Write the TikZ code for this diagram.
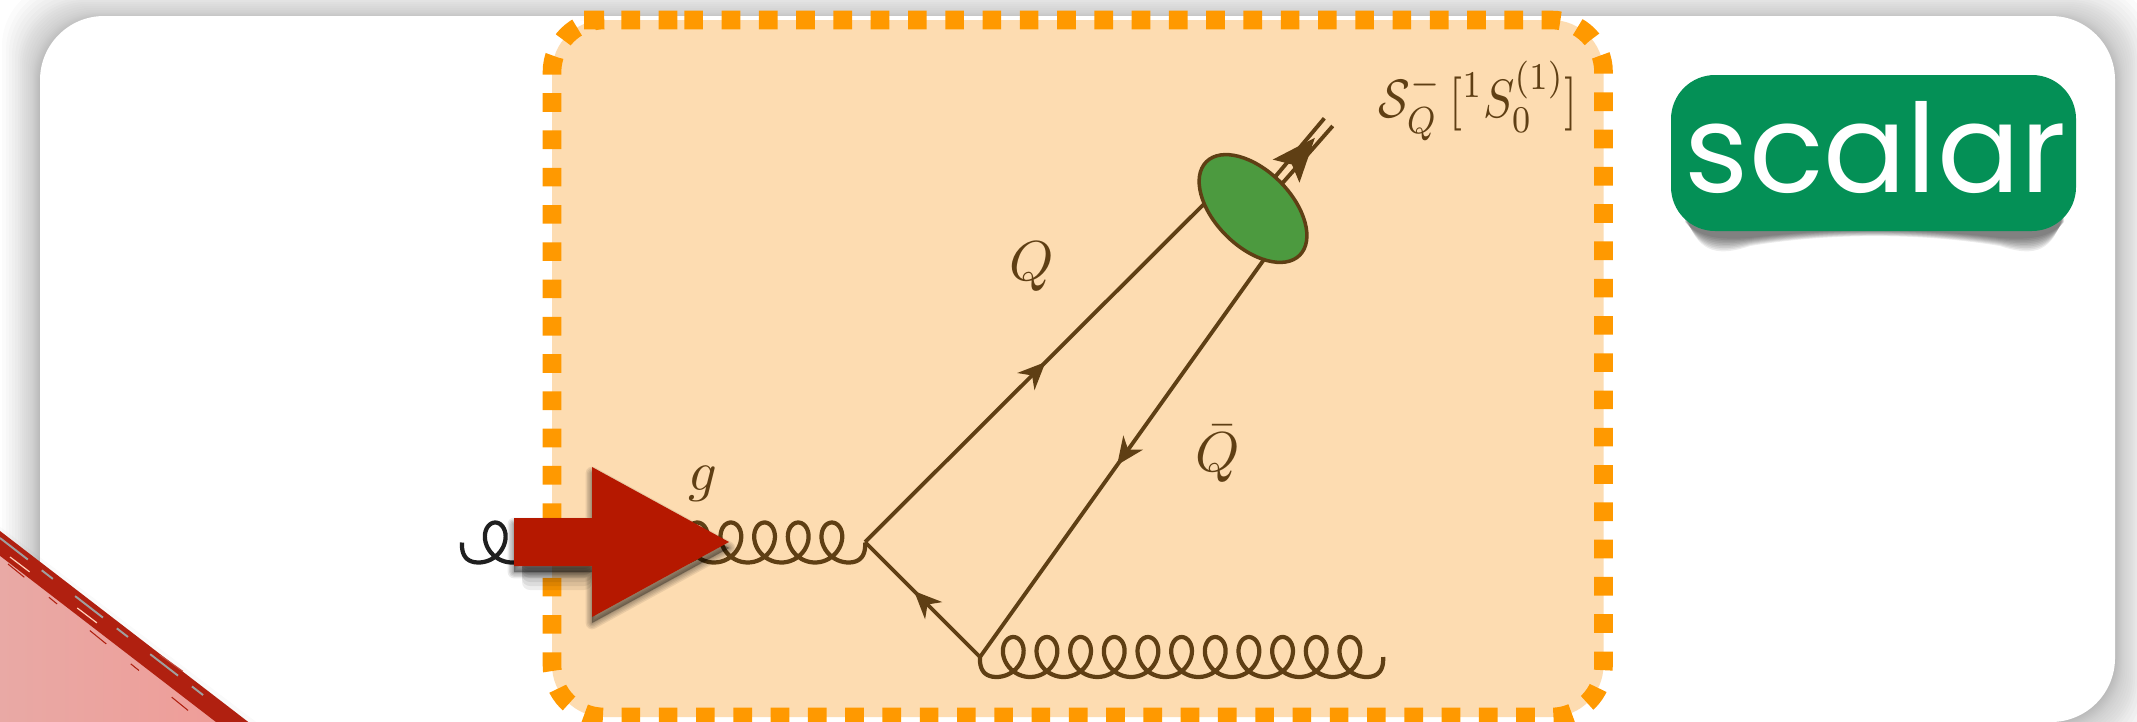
\documentclass[tikz,border=0pt]{standalone}
\usepackage{fontspec}
\newfontfamily\badgefont{Poppins}
\usetikzlibrary{arrows.meta,decorations.markings,shapes.geometric}
\definecolor{diagbrown}{HTML}{5F3F14}
\definecolor{boxorange}{HTML}{FF9900}
\definecolor{boxfill}{HTML}{FDDCB1}
\definecolor{blobgreen}{HTML}{4C9A3F}
\definecolor{badgegreen}{HTML}{049056}
\definecolor{arrowred}{HTML}{B51800}
\definecolor{edgered}{HTML}{B02010}
% one coil line, 403 wide, from its left end
\newcommand{\gluonplot}[2]{plot[domain=0:4140,samples=521,variable=\t] ({#1+8+0.0935*\t-(18-10*max(0,1-\t/90)-10*max(0,1-(4140-\t)/90))*cos(\t)},{#2+20*sin(\t)})}
\begin{document}
\begin{tikzpicture}[
        x=0.01cm,
        y=-0.01cm,
        soft shade/.style={black,opacity=0.017},
        edge shade/.style={black,opacity=0.02},
        corner shade/.style={black,opacity=0.07},
        quark line/.style={diagbrown,line width=1.1pt},
        gluon line/.style={diagbrown,line width=1.2pt},
        mid arrow/.style={postaction={decorate},decoration={markings,mark=at position #1 with {\arrow{Stealth[length=7.8pt,width=6.8pt,inset=2.4pt]}}}},
        big arrow/.style={postaction={decorate},decoration={markings,mark=at position #1 with {\arrow{Stealth[length=12.5pt,width=10pt,inset=2.5pt]}}}},
        math label/.style={text=diagbrown,scale=1.6,inner sep=0pt}
    ]
    \useasboundingbox (0,0) rectangle (2137,721);

    % card and its shadow
    \foreach \d in {38,34,31,28,25,22,20,18,16,14,12,10,8.5,7,6,5,4,3,2,1} {
        \fill[soft shade,rounded corners=0.64cm] (40-\d,20-\d) rectangle (2115+\d,722+\d);
    }
    \fill[white,rounded corners=0.64cm] (40,16) rectangle (2115,722);

    % corner of the red sheet
    \foreach \d in {14,10,7,4} {
        \draw[edge shade,line width=\d*0.6pt] (-20,530) -- (262,745);
    }
    \shade[left color={rgb,255:red,232;green,170;blue,166},right color={rgb,255:red,240;green,155;blue,150}] (-20,528) -- (262,745) -- (-20,745) -- cycle;
    \draw[edgered,line width=5.6pt] (-20,528) -- (262,745);
    \draw[gray!75,line width=0.55pt,dash pattern=on 10pt off 5pt on 4pt off 8pt] (0,538) -- (225,712);
    \draw[boxfill!50!pink,line width=0.35pt,dash pattern=on 7pt off 17pt] (10,557) -- (105,629);
    \draw[edgered,line width=0.3pt,dash pattern=on 6pt off 9pt on 3pt off 12pt] (8,564) -- (190,712);
    \draw[edgered!80,line width=0.3pt,dash pattern=on 8pt off 22pt] (160,655) -- (240,712);

    % orange frame
    \draw[boxorange,fill=boxfill,line width=5.3pt,rounded corners=0.52cm,dash pattern=on 5.3pt off 5.3pt]
        (632.3,20) -- (1603.5,20) -- (1603.5,717) -- (552,717) -- (552,20) -- cycle;

    % badge
    \foreach \d in {16,14,...,0} {
        \fill[corner shade] (1685,205) -- (1685+\d*0.2,222) .. controls (1700,238+\d) and (1720,240+\d) .. (1750,238+0.5*\d)
            .. controls (1830,228+0.3*\d) and (1920,228+0.3*\d) .. (2000,238+0.5*\d)
            .. controls (2030,240+\d) and (2050,238+\d) .. (2064-\d*0.2,222) -- (2064,205) -- cycle;
    }
    \fill[badgegreen,rounded corners=0.44cm] (1671,75) rectangle (2076,231);
    \node[text=white,font=\badgefont\fontsize{35}{37}\selectfont,inner sep=0pt,anchor=base] (badge) at (1875.5,192) {scalar};

    % vertices
    \coordinate (v1) at (865,542);
    \coordinate (v2) at (980,657);
    \coordinate (qend) at (1205,203);
    \coordinate (qbarstart) at (1265,258);
    \coordinate (outa) at (1278,180.5);
    \coordinate (outb) at (1328.5,122);

    % gluons
    \begin{scope}
        \clip (440,480) rectangle (600,600);
        \draw[black!88,line width=1.2pt] \gluonplot{462}{542.5};
    \end{scope}
    \begin{scope}
        \clip (600,480) rectangle (880,600);
        \draw[gluon line] \gluonplot{462}{542.5};
    \end{scope}
    \draw[gluon line] \gluonplot{980}{657};

    % quark lines
    \draw[quark line,mid arrow=0.532] (v1) -- (qend);
    \draw[quark line,mid arrow=0.519] (qbarstart) -- (v2);
    \draw[quark line,mid arrow=0.574] (v2) -- (v1);

    % outgoing state
    \draw[quark line] (1275,177) -- (1324.3,118.3);
    \draw[quark line] (1281.7,184) -- (1332.7,126);
    \path[diagbrown,big arrow=0.73] (outa) -- (outb);
    \node[draw=diagbrown,fill=blobgreen,line width=1pt,ellipse,minimum width=1.32cm,minimum height=0.76cm,inner sep=0pt,rotate=-45] (blob) at (1253,208.5) {};

    % labels
    \node[math label] (qlabel) at (1032,267) {$Q$};
    \node[math label] (qbarlabel) at (1218,454) {$\bar{Q}$};
    \node[math label] (glabel) at (703,484) {$g$};
    \node[math label,xscale=0.83,yscale=0.96] (statelabel) at (1478,101) {$\mathcal{S}_{Q}^{-}\,[{}^{1}S_{0}^{(1)}]$};

    % red arrow
    \foreach \d in {24,20,16,12,9,6,3} {
        \fill[black,opacity=0.07,rounded corners=0.08cm] (522,560) rectangle (592,566+\d);
    }
    \foreach \w in {3.6,2.8,2,1.2,0.5} {
        \draw[black,fill=black,opacity=0.08,line width=\w pt,line join=round] (514,524) -- (592,524) -- (592,473) -- (729,548) -- (592,623) -- (592,572) -- (514,572) -- cycle;
    }
    \fill[arrowred] (514,518) -- (592,518) -- (592,467) -- (729,542) -- (592,617) -- (592,566) -- (514,566) -- cycle;
\end{tikzpicture}
\end{document}
